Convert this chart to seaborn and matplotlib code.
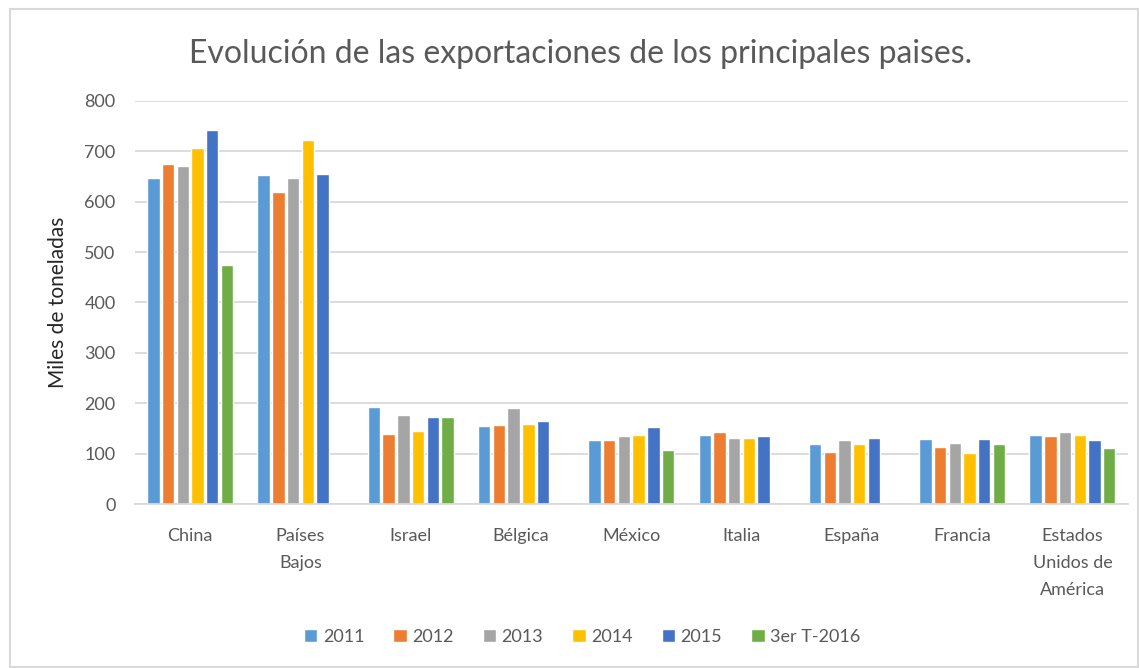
import numpy as np
import pandas as pd
import matplotlib.pyplot as plt
import seaborn as sns
from matplotlib.patches import Rectangle

paises = ["China", "Países\nBajos", "Israel", "Bélgica", "México", "Italia",
          "España", "Francia", "Estados\nUnidos de\nAmérica"]
series = ["2011", "2012", "2013", "2014", "2015", "3er T-2016"]

v2011 = [646, 652, 193, 155, 127, 137, 119, 129, 137]
v2012 = [674, 620, 139, 157, 127, 143, 103, 113, 135]
v2013 = [670, 646, 177, 191, 135, 131, 127, 121, 143]
v2014 = [707, 723, 145, 159, 137, 131, 119, 101, 137]
v2015 = [743, 654, 173, 165, 153, 135, 131, 129, 127]
v2016 = [475, np.nan, 173, np.nan, 107, np.nan, np.nan, 119, 111]

colores = ["#5B9BD5", "#ED7D31", "#A5A5A5", "#FFC000", "#4472C4", "#70AD47"]


def main():
    # tabla larga para seaborn
    valores = [v2011, v2012, v2013, v2014, v2015, v2016]
    filas = []
    for s, vals in zip(series, valores):
        for p, v in zip(paises, vals):
            filas.append({"pais": p, "serie": s, "valor": v})
    df = pd.DataFrame(filas)

    sns.set_style("white")
    plt.rcParams["font.family"] = ["Lato", "DejaVu Sans"]

    fig = plt.figure(figsize=(11.39, 6.68), dpi=100)
    ax = fig.add_axes([0.1185, 0.2455, 0.8715, 0.6035])

    sns.barplot(data=df, x="pais", y="valor", hue="serie", order=paises,
                hue_order=series, palette=colores, width=0.8, gap=0.15,
                saturation=1, ax=ax, legend=True)

    ax.set_ylim(0, 800)
    ax.set_xlim(-0.5, len(paises) - 0.5)
    ax.set_yticks(range(0, 801, 100))
    ax.yaxis.grid(True, color="#D9D9D9", linewidth=1.3)
    ax.set_axisbelow(True)
    for side in ["top", "right", "left"]:
        ax.spines[side].set_visible(False)
    ax.spines["bottom"].set_color("#D9D9D9")
    ax.spines["bottom"].set_linewidth(1.3)
    ax.tick_params(axis="y", length=0, pad=14, labelsize=13, labelcolor="#595959")
    ax.tick_params(axis="x", length=0, pad=17, labelsize=13, labelcolor="#595959")
    for lbl in ax.get_xticklabels():
        lbl.set_linespacing(1.85)
        lbl.set_verticalalignment("top")

    ax.set_xlabel("")
    ax.set_ylabel("Miles de toneladas", fontsize=15, color="#262626", labelpad=12)

    fig.suptitle("Evolución de las exportaciones de los principales paises.",
                 x=0.51, y=0.942, fontsize=23, color="#595959")

    handles, labels = ax.get_legend_handles_labels()
    ax.get_legend().remove()
    fig.legend(handles, labels, loc="center", bbox_to_anchor=(0.511, 1 - 637 / 668),
               ncol=6, frameon=False, fontsize=13, handlelength=0.75,
               handleheight=0.75, handletextpad=0.3, columnspacing=1.6,
               labelcolor="#595959")

    # marco exterior del grafico
    fig.patches.append(Rectangle((10 / 1139, 0.002), 1 - 11 / 1139, 1 - 10 / 668,
                                 transform=fig.transFigure, fill=False,
                                 edgecolor="#D9D9D9", linewidth=1.5))

    fig.savefig("out.png", dpi=100, facecolor="white")


if __name__ == "__main__":
    main()
